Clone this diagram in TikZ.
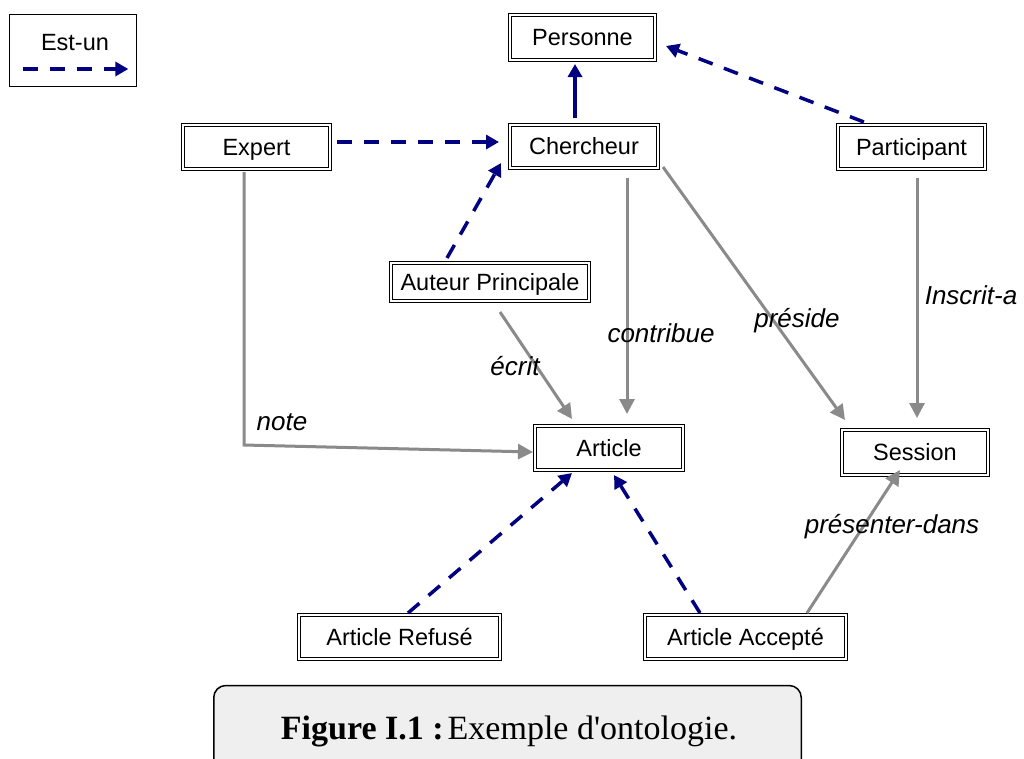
\documentclass[tikz,border=0pt]{standalone}
\usepackage{fontspec}
\setmainfont{Liberation Sans}
\newfontfamily\serifcap[Ligatures=TeXOff]{Liberation Serif}
\usetikzlibrary{arrows.meta,calc}
\definecolor{isacol}{HTML}{000080}
\definecolor{relcol}{HTML}{8A8A8A}
\definecolor{capfill}{HTML}{EFEFEF}
\begin{document}
\begin{tikzpicture}[x=1pt,y=-1pt,
  concept/.style={draw=black, double, double distance=2pt, line width=0.9pt,
    inner sep=0pt, outer sep=0pt, text height=16.8pt, text depth=0pt,
    font=\fontsize{23.5}{28}\selectfont},
  isa/.style={draw=isacol, line width=3.5pt, dash pattern=on 15pt off 12pt,
    -{Triangle[length=13pt,width=14pt]}},
  isasolid/.style={draw=isacol, line width=3.5pt,
    -{Triangle[length=13pt,width=14pt]}},
  rel/.style={draw=relcol, line width=3pt,
    -{Triangle[length=15pt,width=15pt]}},
  rellabel/.style={font=\fontsize{26}{30}\selectfont\itshape, inner sep=0pt, anchor=base}]

\useasboundingbox (0,0) rectangle (1024,758);
\clip (0,0) rectangle (1024,758);
\fill[white] (0,0) rectangle (1024,758);

% legend
\node[draw=black, line width=1.3pt, inner sep=0pt, outer sep=0pt,
      minimum width=126.7pt, minimum height=71.7pt] (legend) at (73,50.5) {};
\node[font=\fontsize{23.5}{28}\selectfont, inner sep=0pt, text height=16.8pt, text depth=0pt]
      (legtext) at (75,42) {Est-un};
\draw[isa] ($(legend.west)+(13,18.5)$) -- ($(legend.east)+(-8,18.5)$);

% concepts
\node[concept, minimum width=145.2pt, minimum height=45.2pt] (pers)   at (582.5,37.5) {Personne};
\node[concept, minimum width=147.2pt, minimum height=44.2pt] (expert) at (256.5,147)  {Expert};
\node[concept, minimum width=148.2pt, minimum height=43.2pt] (cher)   at (584,146.5)  {Chercheur};
\node[concept, minimum width=147.2pt, minimum height=44.2pt] (part)   at (911.5,147)  {Participant};
\node[concept, minimum width=198.2pt, minimum height=38.2pt] (aut)    at (490,282)    {Auteur Principale};
\node[concept, minimum width=148.2pt, minimum height=44.2pt] (art)    at (609,448)    {Article};
\node[concept, minimum width=146.2pt, minimum height=45.2pt] (sess)   at (915,452.5)  {Session};
\node[concept, minimum width=201.2pt, minimum height=44.2pt] (ref)    at (399.5,637)  {Article Refusé};
\node[concept, minimum width=201.2pt, minimum height=44.2pt] (acc)    at (745.5,637)  {Article Accepté};

% is-a links
\draw[isasolid] ($(cher.north)+(-9,-6.9)$) -- ($(pers.south)+(-7.5,3.9)$);
\draw[isa] ($(part.north west)+(26,-2.9)$) -- ($(pers.east)+(10.9,8.5)$);
\draw[isa] ($(expert.east)+(6.9,-5)$) -- ($(cher.west)+(-10.9,-4.5)$);
\draw[isa] ($(aut.north)+(-43,-4.9)$) -- ($(cher.west)+(-8.9,16.5)$);
\draw[isa] ($(ref.north)+(8.5,-1.9)$) -- ($(art.south)+(-37,2.9)$);
\draw[isa] ($(acc.north)+(-45.5,-1.9)$) -- ($(art.south)+(5,4.9)$);

% relations
\draw[rel] ($(expert.south)+(-12.5,2.9)$) -- ++(0,273) -- ($(art.west)+(-1.9,4)$);
\draw[rel] ($(aut.south)+(10,10.9)$) -- ($(art.north)+(-37,-6.9)$);
\draw[rel] ($(cher.south)+(43,9.9)$) -- ($(art.north)+(18,-11.9)$);
\draw[rel] ($(cher.south east)+(4.9,-1.1)$) -- ($(sess.north west)+(3.1,-9.9)$);
\draw[rel] ($(part.south)+(5.5,8.9)$) -- ($(sess.north)+(2,-11.9)$);
\draw[rel] ($(acc.north)+(61.5,-1.9)$) -- ($(sess.south)+(-15,-5.1)$);

% relation names
\node[rellabel] (lnote)  at (282,430) {note};
\node[rellabel] (lecrit) at (515,375) {écrit};
\node[rellabel] (lcontr) at (661,342) {contribue};
\node[rellabel] (lpres)  at (797,327) {préside};
\node[rellabel] (linsc)  at (971,304) {Inscrit-a};
\node[rellabel] (lpdans) at (892,533) {présenter-dans};

% caption
\node[draw=black, line width=1.5pt, rounded corners=12pt, fill=capfill,
      inner sep=0pt, minimum width=587.5pt, minimum height=100pt, anchor=north]
      (caption) at (507.5,684.75) {};
\node[anchor=base, inner sep=0pt, font=\serifcap] (captext) at (509,739)
  {{\fontsize{34}{40}\selectfont\bfseries Figure I.1 :}\hspace{4pt}{\fontsize{34}{40}\selectfont Exemple d'ontologie.}};
\end{tikzpicture}
\end{document}
